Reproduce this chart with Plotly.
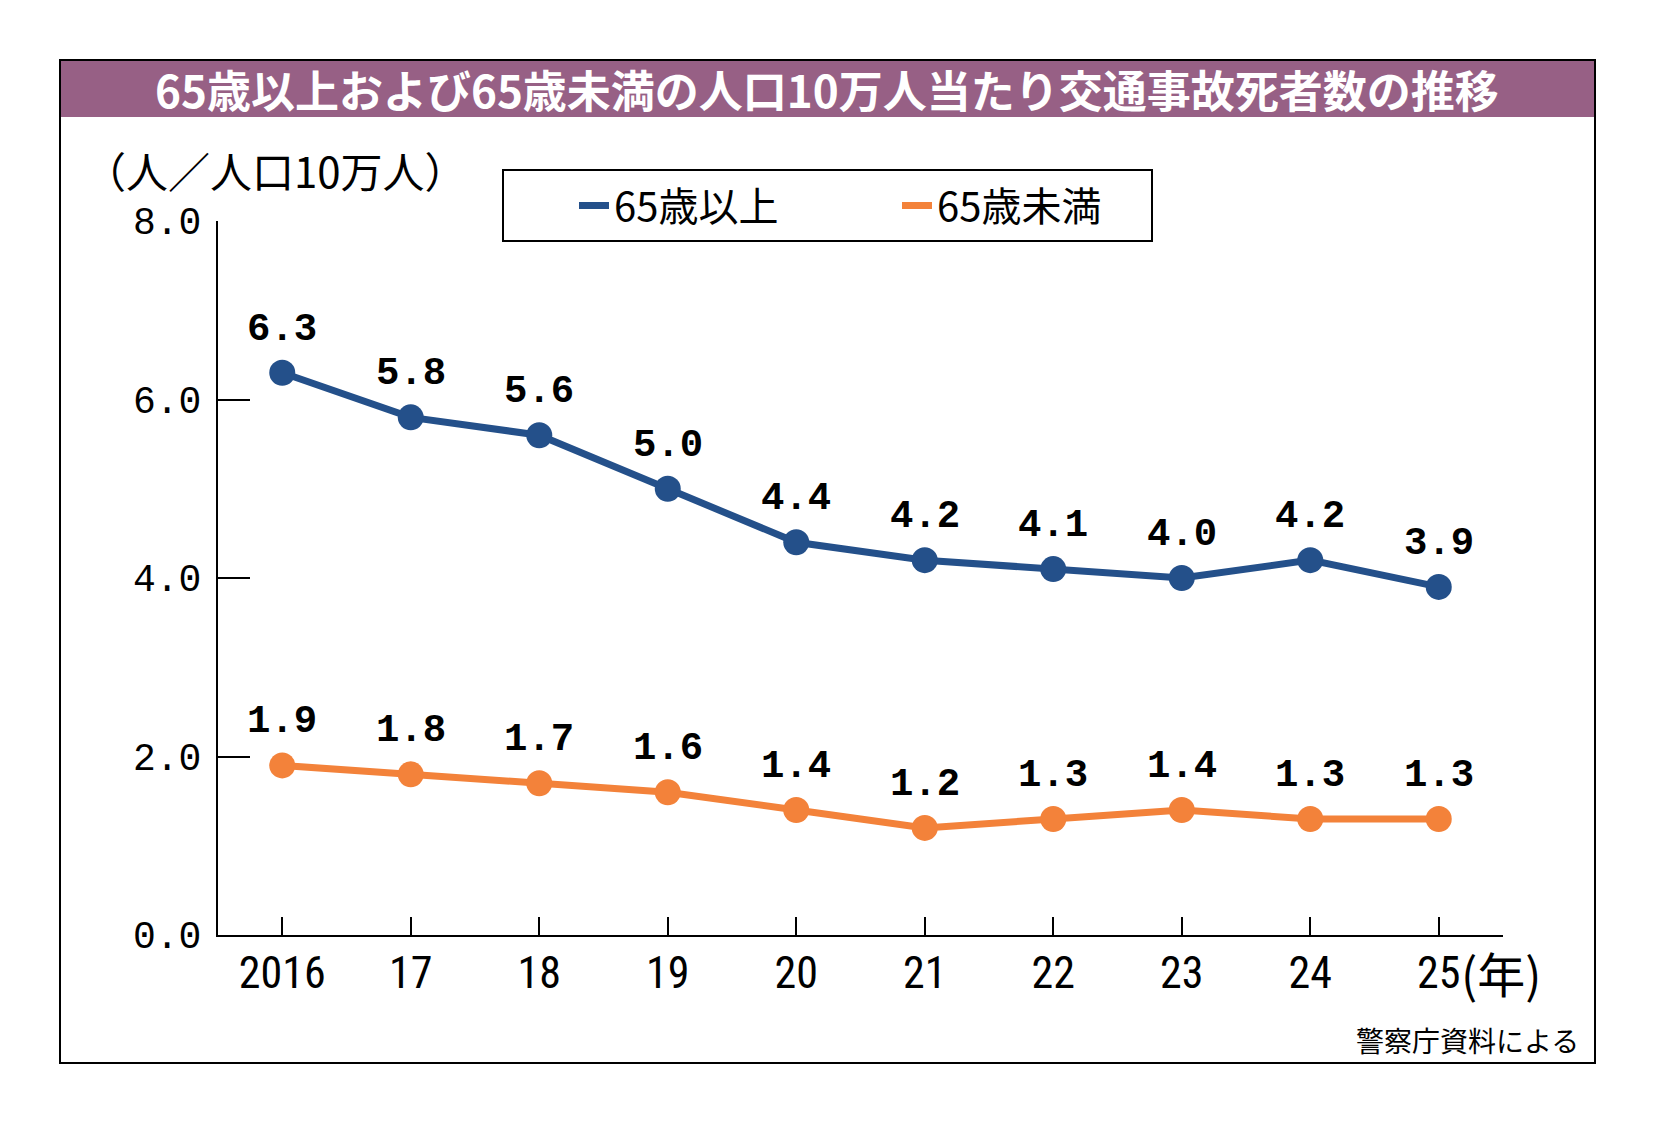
import plotly.graph_objects as go

years = ["2016", "17", "18", "19", "20", "21", "22", "23", "24", "25"]
over65 = [6.3, 5.8, 5.6, 5.0, 4.4, 4.2, 4.1, 4.0, 4.2, 3.9]
under65 = [1.9, 1.8, 1.7, 1.6, 1.4, 1.2, 1.3, 1.4, 1.3, 1.3]
series_names = ["65歳以上", "65歳未満"]
y_ticks = [0, 2, 4, 6, 8]
y_ticklabels = ["0.0", "2.0", "4.0", "6.0", "8.0"]

title_text = "65歳以上および65歳未満の人口10万人当たり交通事故死者数の推移"
unit_text = "（人／人口10万人）"
year_unit = "(年)"
source_text = "警察庁資料による"

NAVY = "#24508a"
ORANGE = "#f3823a"
PURPLE = "#976085"
CJK = "Noto Sans CJK JP"
NARROW = "Roboto Condensed, Open Sans Condensed, Open Sans, Roboto, Noto Sans CJK JP"
MONO = "Liberation Mono, DejaVu Sans Mono, monospace"

# page body has an 8px margin: screen coords S -> figure coords S - OFF
OFF = 8
W, H = 1638, 1106
ML, MR, MT, MB = 210, 143, 213, 179
PW = W - ML - MR
PH = H - MT - MB


def px(s):
    return (s - OFF - ML) / PW


def py(s):
    return (H - MB - (s - OFF)) / PH


xs = list(range(len(years)))
fig = go.Figure()
for vals, color in [(over65, NAVY), (under65, ORANGE)]:
    fig.add_trace(go.Scatter(
        x=xs, y=vals, mode="lines+markers",
        line=dict(color=color, width=7),
        marker=dict(color=color, size=26),
        showlegend=False, hoverinfo="skip", cliponaxis=False))
for name, color in zip(series_names, [NAVY, ORANGE]):
    fig.add_trace(go.Scatter(
        x=[None], y=[None], mode="lines", name=name,
        line=dict(color=color, width=7), showlegend=True))

annotations = []
for vals in (over65, under65):
    for i, v in enumerate(vals):
        annotations.append(dict(
            x=xs[i], y=v, xref="x", yref="y", text=f"<b>{v:.1f}</b>",
            showarrow=False, yshift=43,
            font=dict(family=MONO, size=39, color="black")))

annotations.append(dict(
    x=px(827), y=py(89), xref="paper", yref="paper", text=f"<b>{title_text}</b>",
    showarrow=False, xanchor="center", yanchor="middle",
    font=dict(family=CJK, size=44, color="white")))
annotations.append(dict(
    x=px(82), y=py(169), xref="paper", yref="paper", text=unit_text,
    showarrow=False, xanchor="left", yanchor="middle",
    font=dict(family=CJK, size=42, color="black")))
annotations.append(dict(
    x=xs[-1], y=py(972), xref="x", yref="paper", text=year_unit,
    showarrow=False, xanchor="left", yanchor="middle", xshift=20,
    font=dict(family=CJK, size=48, color="black")))
annotations.append(dict(
    x=px(1581), y=py(1040), xref="paper", yref="paper", text=source_text,
    showarrow=False, xanchor="right", yanchor="middle",
    font=dict(family=CJK, size=28, color="black")))

shapes = [
    dict(type="rect", xref="paper", yref="paper",
         x0=px(60), x1=px(1595), y0=py(1063), y1=py(60),
         line=dict(color="black", width=2), fillcolor="rgba(0,0,0,0)", layer="below"),
    dict(type="rect", xref="paper", yref="paper",
         x0=px(61), x1=px(1594), y0=py(117), y1=py(61),
         line=dict(width=0), fillcolor=PURPLE, layer="below"),
    # legend frame
    dict(type="rect", xref="paper", yref="paper",
         x0=px(503), x1=px(1152), y0=py(241), y1=py(170),
         line=dict(color="black", width=2), fillcolor="white", layer="below"),
]

fig.update_layout(
    width=W, height=H,
    margin=dict(l=ML, r=MR, t=MT, b=MB, pad=0, autoexpand=False),
    paper_bgcolor="white", plot_bgcolor="white",
    annotations=annotations, shapes=shapes,
    showlegend=True,
    legend=dict(
        orientation="h", xref="container", yref="container",
        x=(574 - OFF) / W, y=1 - (173 - OFF) / H, xanchor="left", yanchor="top",
        borderwidth=0, bgcolor="rgba(0,0,0,0)",
        font=dict(family=CJK, size=40, color="black"),
        entrywidth=278, entrywidthmode="pixels", itemwidth=30,
    ),
    xaxis=dict(
        range=[-0.5, 9.5], tickmode="array", tickvals=xs, ticktext=years,
        showgrid=False, zeroline=False, showline=True, linecolor="black", linewidth=2,
        ticks="inside", ticklen=18, tickwidth=2, tickcolor="black",
        tickfont=dict(family=NARROW, size=44, color="black"),
        ticklabelstandoff=-2,
    ),
    yaxis=dict(
        range=[0, 8], tickmode="array", tickvals=y_ticks, ticktext=y_ticklabels,
        showgrid=False, zeroline=False, showline=True, linecolor="black", linewidth=2,
        ticks="inside", ticklen=32, tickwidth=2, tickcolor="black",
        tickfont=dict(family=MONO, size=38, color="black"),
        ticklabelstandoff=7,
    ),
)

try:
    fig.update_xaxes(tickfont_stretch="condensed")
except Exception:
    pass

fig.write_html("out.html")
